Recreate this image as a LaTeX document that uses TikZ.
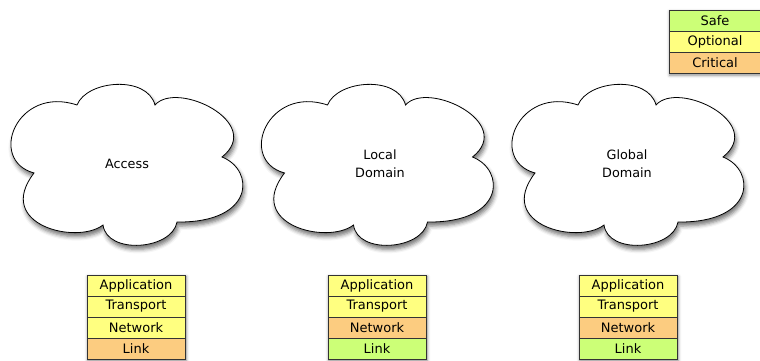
\documentclass[tikz,border=0pt]{standalone}
\usepackage{fontspec}
\setmainfont{DejaVu Sans}
\usetikzlibrary{shadows.blur,backgrounds}
\definecolor{safegreen}{RGB}{204,255,119}
\definecolor{optyellow}{RGB}{255,255,128}
\definecolor{critorange}{RGB}{252,204,128}
\tikzset{
  layer/.style={draw=black!80, line width=0.6pt, minimum width=98pt, minimum height=21pt,
    inner sep=0pt, font=\fontsize{13}{15}\selectfont},
  softshadow/.style={blur shadow={shadow xshift=1pt, shadow yshift=-2pt,
    shadow blur radius=3pt, shadow opacity=45}},
  cloudline/.style={draw=black, line width=0.8pt, fill=white,
    blur shadow={shadow xshift=1.5pt, shadow yshift=-4pt, shadow blur radius=4pt, shadow opacity=55}},
  cloudtext/.style={align=center, font=\fontsize{12.8}{18}\selectfont},
  pics/netcloud/.style={code={
    \path[cloudline] (-93,8)
      .. controls (-140,-5) and (-110,-80) .. (-50,-60)
      .. controls (-40,-85) and (20,-90) .. (28,-60)
      .. controls (50,-85) and (138,-42) .. (95,-8)
      .. controls (128,5) and (128,58) .. (50,57)
      .. controls (45,85) and (-20,90) .. (-24,60)
      .. controls (-50,80) and (-133,60) .. cycle;
  }}
}
\begin{document}
\begin{tikzpicture}[x=1pt,y=-1pt]
  \useasboundingbox (0,0) rectangle (760,361);

  % clouds
  \pic at (127,165) {netcloud};
  \node[cloudtext] (access) at (127,164) {Access};
  \pic at (377.5,165) {netcloud};
  \node[cloudtext] (local) at (380,164) {Local\\Domain};
  \pic at (628,165) {netcloud};
  \node[cloudtext] (global) at (627,164) {Global\\Domain};

  % legend (runs off the right edge)
  \node[layer, fill=safegreen, minimum width=92pt] (safe) at (715,20.5) {Safe};
  \node[layer, fill=optyellow, minimum width=92pt] (optional) at (715,41.5) {Optional};
  \node[layer, fill=critorange, minimum width=92pt] (critical) at (715,62.5) {Critical};

  % access stack
  \node[layer, fill=optyellow] (a-app) at (136,285.5) {Application};
  \node[layer, fill=optyellow] (a-tr) at (136,306.5) {Transport};
  \node[layer, fill=optyellow] (a-net) at (136,327.5) {Network};
  \node[layer, fill=critorange] (a-link) at (136,348.5) {Link};

  % local domain stack
  \node[layer, fill=optyellow] (l-app) at (377,285.5) {Application};
  \node[layer, fill=optyellow] (l-tr) at (377,306.5) {Transport};
  \node[layer, fill=critorange] (l-net) at (377,327.5) {Network};
  \node[layer, fill=safegreen] (l-link) at (377,348.5) {Link};

  % global domain stack
  \node[layer, fill=optyellow] (g-app) at (628,285.5) {Application};
  \node[layer, fill=optyellow] (g-tr) at (628,306.5) {Transport};
  \node[layer, fill=critorange] (g-net) at (628,327.5) {Network};
  \node[layer, fill=safegreen] (g-link) at (628,348.5) {Link};

  \begin{pgfonlayer}{background}
    \path[softshadow, fill=white] (safe.north west) rectangle (critical.south east);
    \path[softshadow, fill=white] (a-app.north west) rectangle (a-link.south east);
    \path[softshadow, fill=white] (l-app.north west) rectangle (l-link.south east);
    \path[softshadow, fill=white] (g-app.north west) rectangle (g-link.south east);
  \end{pgfonlayer}
\end{tikzpicture}
\end{document}
